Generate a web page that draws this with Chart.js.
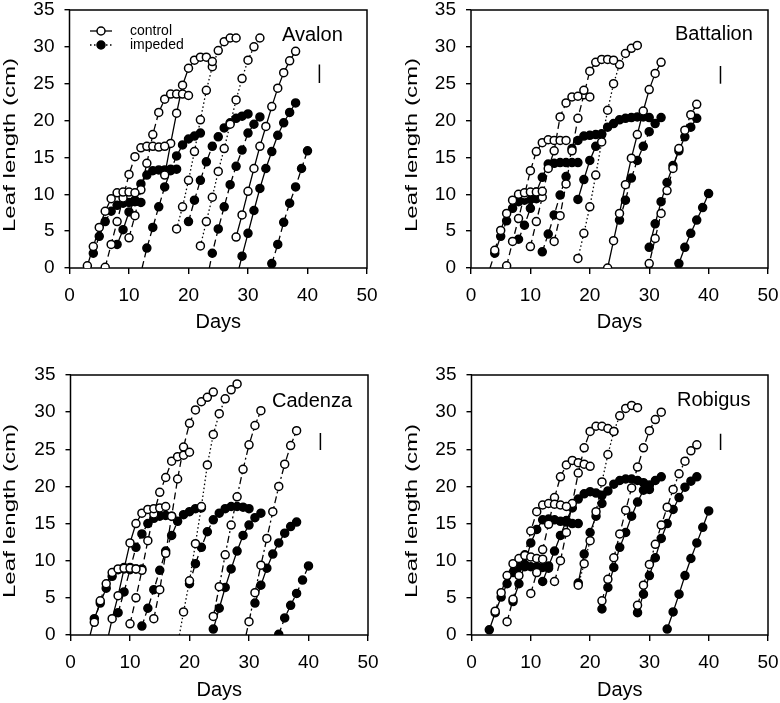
<!DOCTYPE html>
<html>
<head>
<meta charset="utf-8">
<script src="https://cdn.jsdelivr.net/npm/chart.js@4"></script>
<style>
  html, body { margin: 0; padding: 0; background: #fff; width: 780px; height: 703px; overflow: hidden; }
  .panel { position: absolute; }
</style>
</head>
<body>
<div class="panel" style="left:0;top:0"><canvas id="avalon" width="380" height="345"></canvas></div>
<div class="panel" style="left:400px;top:0"><canvas id="battalion" width="380" height="345"></canvas></div>
<div class="panel" style="left:0;top:365px"><canvas id="cadenza" width="380" height="345"></canvas></div>
<div class="panel" style="left:400px;top:365px"><canvas id="robigus" width="380" height="345"></canvas></div>
<script>
// each leaf: [first day, daily leaf lengths (cm)]
var avalonControl = [
  [3, [0.3, 2.9, 5.5, 7.7, 9.4, 10.2, 10.3, 10.3, 10.2]],
  [6, [0.1, 3.2, 6.3, 9.5, 12.7, 15.1, 16.3, 16.5, 16.5, 16.4, 16.5]],
  [10, [4.1, 7.1, 10.6, 14.2, 18.1, 21.1, 22.9, 23.6, 23.6, 23.6, 23.4]],
  [16, [12.6, 16.9, 21.0, 24.8, 27.1, 28.2, 28.6, 28.6, 28.0]],
  [18, [5.3, 8.3, 11.9, 15.8, 20.1, 24.1, 27.3, 29.5, 30.7, 31.2, 31.2]],
  [22, [3.0, 6.3, 9.6, 13.1, 16.2, 19.5, 22.8, 25.7, 28.2, 30.0, 31.2]],
  [28, [4.2, 7.2, 10.4, 13.5, 16.5, 19.2, 21.9, 24.4, 26.5, 28.1, 29.4]]
];
var avalonImpeded = [
  [4, [2.0, 4.3, 6.3, 7.7, 8.5, 8.8, 8.9, 9.0, 8.9]],
  [8, [3.2, 5.2, 7.6, 9.2, 11.4, 12.6, 13.2, 13.3, 13.3, 13.4, 13.4]],
  [13, [2.7, 5.5, 8.3, 11.0, 13.2, 15.2, 16.7, 17.5, 17.9, 18.3]],
  [20, [6.3, 9.2, 11.9, 14.4, 16.5, 17.8, 19.0, 19.7, 20.3, 20.6, 20.9]],
  [24, [2.0, 5.3, 8.3, 11.3, 13.8, 16.0, 18.3, 19.5, 20.5]],
  [29, [1.6, 4.7, 7.8, 10.8, 13.5, 15.8, 18.0, 19.7, 21.1, 22.4]],
  [34, [0.6, 3.2, 6.2, 8.8, 11.0, 13.5, 15.9]]
];
// day where a fitted line meets 0 (null = none drawn)
var avalonControlX0 = [null, null, null, null, null, null, null];
var avalonImpededX0 = [null, null, 12.2, null, 23.5, 28.5, null];
var avalonErr = [25.1, 27.6];

var battalionControl = [
  [4, [2.4, 5.1, 7.4, 9.2, 10.0, 10.2, 10.3, 10.3, 10.4]],
  [6, [0.3, 3.6, 6.7, 9.9, 13.2, 15.8, 17.0, 17.4, 17.3, 17.3, 17.3]],
  [10, [2.9, 6.3, 9.6, 13.5, 15.9, 20.5, 22.4, 23.2, 23.3, 24.1, 23.2]],
  [14, [3.6, 7.1, 11.4, 15.9, 20.3, 23.5, 26.7, 27.9, 28.3, 28.3, 28.2]],
  [18, [1.3, 4.7, 8.3, 12.6, 17.1, 21.4, 25.0, 27.6, 29.1, 29.8, 30.2]],
  [23, [0.0, 3.7, 7.4, 11.3, 14.9, 18.1, 21.3, 24.2, 26.4, 27.9]],
  [30, [0.6, 4.0, 7.4, 10.5, 13.5, 16.2, 18.7, 20.8, 22.2]]
];
var battalionImpeded = [
  [4, [2.0, 4.3, 6.4, 8.1, 9.0, 9.2, 9.3, 9.4]],
  [8, [3.9, 5.8, 8.1, 10.3, 12.3, 14.1, 14.2, 14.3, 14.3, 14.3, 14.3]],
  [12, [2.2, 4.6, 7.2, 9.9, 12.4, 16.2, 17.3, 17.9, 18.0, 18.1, 18.2]],
  [18, [9.3, 12.0, 14.6, 16.5, 18.1, 19.1, 19.6, 20.1, 20.3, 20.4, 20.5, 20.5, 20.4]],
  [25, [6.5, 9.2, 12.2, 14.6, 16.5, 18.5, 19.6, 20.4]],
  [30, [2.8, 6.0, 9.0, 11.6, 13.9, 15.9, 17.8, 19.1, 20.3]],
  [35, [0.6, 2.8, 4.7, 6.5, 8.2, 10.1]]
];
var battalionControlX0 = [null, null, null, null, null, null, 29.5];
var battalionImpededX0 = [3.2, null, null, null, null, null, null];
var battalionErr = [25.0, 27.4];

var cadenzaControl = [
  [4, [1.7, 4.6, 6.9, 8.4, 8.9, 9.0, 9.0, 8.9]],
  [7, [2.2, 5.3, 8.9, 12.4, 15.0, 16.4, 16.9, 17.0, 17.1, 17.3]],
  [10, [1.5, 5.0, 8.7, 12.7, 16.3, 19.2, 21.2, 23.4, 24.0, 24.2, 24.6]],
  [14, [2.2, 6.1, 11.0, 16.0, 21.0, 25.3, 28.5, 30.3, 31.4, 32.0, 32.7]],
  [19, [3.1, 7.3, 12.3, 17.3, 22.9, 27.0, 29.8, 31.8, 33.0, 33.8]],
  [24, [2.5, 6.5, 10.8, 14.8, 18.6, 22.3, 25.6, 28.2, 30.2]],
  [30, [1.8, 5.7, 9.4, 13.0, 16.6, 20.0, 23.0, 25.5, 27.5]]
];
var cadenzaImpeded = [
  [4, [2.2, 4.3, 6.3, 7.9, 8.8, 9.1, 9.1, 8.9, 8.9]],
  [8, [3.0, 5.8, 8.8, 11.8, 13.6, 15.0, 15.7, 16.0, 16.1, 16.0]],
  [12, [1.2, 3.6, 6.1, 8.7, 11.3, 13.4, 15.3, 16.2, 16.6, 17.0, 17.1]],
  [20, [6.9, 9.6, 11.8, 13.9, 15.5, 16.4, 17.0, 17.3, 17.3, 17.2, 17.0]],
  [24, [0.8, 3.6, 6.4, 8.9, 11.3, 13.4, 14.8, 15.8, 16.4]],
  [31, [4.3, 6.7, 9.0, 10.9, 12.4, 13.7, 14.6, 15.2]],
  [35, [0.1, 2.3, 4.0, 5.6, 7.4, 9.3]]
];
var cadenzaControlX0 = [null, 6.4, null, null, 18.3, null, 29.5];
var cadenzaImpededX0 = [3.3, null, null, null, null, null, null];
var cadenzaErr = [24.9, 27.2];

var robigusControl = [
  [4, [3.2, 5.7, 8.0, 9.6, 10.3, 10.7, 10.5, 10.3, 10.2]],
  [6, [1.8, 4.8, 8.0, 10.8, 14.0, 16.6, 17.5, 17.7, 17.6, 17.5, 17.3]],
  [10, [5.6, 8.4, 11.5, 14.9, 18.5, 21.3, 22.9, 23.5, 23.2, 23.0, 22.7]],
  [14, [7.2, 10.0, 13.8, 17.7, 21.8, 25.2, 27.4, 28.1, 28.1, 27.8, 27.4]],
  [18, [6.7, 9.6, 12.7, 16.6, 20.6, 24.3, 27.4, 29.5, 30.5, 30.9, 30.6]],
  [22, [4.6, 7.5, 10.4, 13.6, 16.8, 19.8, 22.6, 25.2, 27.5, 29.0, 30.0]],
  [28, [4.0, 6.7, 9.5, 12.2, 14.8, 17.2, 19.6, 21.7, 23.4, 24.8, 25.6]]
];
var robigusImpeded = [
  [3, [0.7, 3.0, 5.1, 6.9, 8.4, 9.2, 9.2, 9.2, 9.2, 9.1, 9.0]],
  [7, [4.5, 6.9, 9.5, 12.4, 14.2, 15.5, 15.6, 15.5, 15.3, 15.2, 15.0, 15.0]],
  [12, [7.2, 9.3, 11.3, 13.4, 15.4, 17.1, 18.3, 19.0, 19.3, 19.1, 18.8]],
  [18, [7.0, 10.9, 13.8, 16.0, 17.7, 19.4, 20.3, 20.8, 21.0, 21.0, 20.8, 20.5, 20.2]],
  [22, [3.5, 6.4, 9.1, 11.8, 13.8, 16.0, 17.9, 19.5, 19.6, 20.8, 21.3]],
  [28, [3.0, 5.5, 8.0, 10.4, 13.0, 15.0, 16.9, 18.5, 19.9, 20.7, 21.3]],
  [33, [0.8, 3.1, 5.5, 8.0, 10.3, 12.4, 14.5, 16.7]]
];
var robigusControlX0 = [null, null, null, null, null, null, null];
var robigusImpededX0 = [null, null, null, null, null, null, null];
var robigusErr = [24.9, 27.1];

var xTicks = [0, 10, 20, 30, 40, 50];
var yTicks = [0, 5, 10, 15, 20, 25, 30, 35];
var errDay = 42;

var FONT = "'Liberation Sans', Arial, sans-serif";
var DASH = { solid: [], dash: [7, 4], dot: [1.5, 2.5], dashdot: [7, 3, 2, 3] };

function leafSeries(leaf, x0, filled, dash) {
  var pts = leaf[1].map(function (v, i) { return { x: leaf[0] + i, y: v }; });
  var radii = pts.map(function () { return 4; });
  if (x0 != null) { pts.unshift({ x: x0, y: 0 }); radii.unshift(0); }
  return {
    data: pts, showLine: true, borderColor: '#000', borderWidth: 1.3, borderDash: DASH[dash],
    pointRadius: radii, pointHoverRadius: radii, pointBorderWidth: 1.5,
    pointBackgroundColor: filled ? '#000' : '#fff', pointBorderColor: '#000'
  };
}

var framePlugin = {
  id: 'frame',
  beforeDatasetsDraw: function (chart) {
    var a = chart.chartArea, ctx = chart.ctx;
    ctx.save();
    ctx.strokeStyle = '#000';
    ctx.lineWidth = 1.5;
    ctx.strokeRect(a.left, a.top, a.right - a.left, a.bottom - a.top);
    ctx.restore();
  },
  afterDraw: function (chart, args, opts) {
    var ctx = chart.ctx, a = chart.chartArea;
    ctx.save();
    ctx.fillStyle = '#000';
    ctx.textBaseline = 'middle';
    // stretched y-axis title, as in the source figure
    ctx.save();
    ctx.translate(opts.tx, (a.top + a.bottom) / 2 + 6);
    ctx.rotate(-Math.PI / 2);
    ctx.scale(1.46, 1);
    ctx.font = '16.5px ' + FONT;
    ctx.textAlign = 'center';
    ctx.fillText('Leaf length (cm)', 0, 0);
    ctx.restore();

    ctx.font = '20px ' + FONT;
    ctx.fillText(opts.name, opts.nx, opts.ny);
    if (opts.legend) {
      var rows = [['control', [], '#fff', 31], ['impeded', DASH.dot, '#000', 45]];
      ctx.font = '14px ' + FONT;
      rows.forEach(function (r) {
        ctx.strokeStyle = '#000';
        ctx.lineWidth = 1.3;
        ctx.setLineDash(r[1]);
        ctx.beginPath(); ctx.moveTo(90, r[3]); ctx.lineTo(112, r[3]); ctx.stroke();
        ctx.setLineDash([]);
        ctx.beginPath(); ctx.arc(101, r[3], 4, 0, Math.PI * 2);
        ctx.fillStyle = r[2]; ctx.fill(); ctx.lineWidth = 1.5; ctx.stroke();
        ctx.fillStyle = '#000';
        ctx.fillText(r[0], 130, r[3]);
      });
    }
    ctx.restore();
  }
};

function makePanel(id, name, control, impeded, cX0, iX0, cDash, iDash, err, geo) {
  var datasets = [];
  control.forEach(function (leaf, i) { datasets.push(leafSeries(leaf, cX0[i], false, cDash[i])); });
  impeded.forEach(function (leaf, i) { datasets.push(leafSeries(leaf, iX0[i], true, iDash[i])); });
  datasets.push({
    data: [{ x: errDay, y: err[0] }, { x: errDay, y: err[1] }], showLine: true,
    borderColor: '#000', borderWidth: 1.5, pointRadius: 0
  });
  var tickFont = { family: FONT, size: 19, lineHeight: 1 };
  new Chart(document.getElementById(id), {
    type: 'scatter',
    data: { datasets: datasets },
    options: {
      responsive: false, animation: false, events: [],
      layout: { padding: { left: 0, top: 10, right: geo.right, bottom: 0 } },
      plugins: {
        legend: { display: false }, tooltip: { enabled: false },
        frame: { name: name, nx: geo.nx, ny: geo.ny, tx: geo.tx, legend: geo.legend }
      },
      scales: {
        x: {
          type: 'linear', min: 0, max: 50,
          afterFit: function (s) { s.height = geo.xH; s.paddingLeft = 0; s.paddingRight = 0; },
          afterBuildTicks: function (s) { s.ticks = xTicks.map(function (v) { return { value: v }; }); },
          ticks: { color: '#000', font: tickFont, padding: 12, maxRotation: 0 },
          grid: { drawOnChartArea: false, drawTicks: true, tickLength: 6, color: '#000', lineWidth: 1.4 },
          border: { display: false },
          title: { display: true, text: 'Days', color: '#000', font: { family: FONT, size: 20 }, padding: { top: 0, bottom: geo.tb } }
        },
        y: {
          min: 0, max: 35,
          afterFit: function (s) { s.width = geo.yW; s.paddingTop = 0; s.paddingBottom = 0; },
          afterBuildTicks: function (s) { s.ticks = yTicks.map(function (v) { return { value: v }; }); },
          ticks: { color: '#000', font: tickFont, padding: 10 },
          grid: { drawOnChartArea: false, drawTicks: true, tickLength: 5, color: '#000', lineWidth: 1.4 },
          border: { display: false },
          title: { display: false }
        }
      }
    },
    plugins: [framePlugin]
  });
}

makePanel('avalon', 'Avalon', avalonControl, avalonImpeded, avalonControlX0, avalonImpededX0,
  ['solid', 'dash', 'dash', 'solid', 'dot', 'dot', 'solid'],
  ['dash', 'solid', 'dash', 'dash', 'dash', 'solid', 'dash'],
  avalonErr, { yW: 69.5, xH: 77, right: 13, tb: 11, nx: 282, ny: 35, tx: 10, legend: true });
makePanel('battalion', 'Battalion', battalionControl, battalionImpeded, battalionControlX0, battalionImpededX0,
  ['dash', 'dash', 'dash', 'dash', 'dot', 'solid', 'dash'],
  ['dash', 'dash', 'dash', 'solid', 'dash', 'solid', 'solid'],
  battalionErr, { yW: 71, xH: 77, right: 12, tb: 11, nx: 275, ny: 34, tx: 12, legend: false });
makePanel('cadenza', 'Cadenza', cadenzaControl, cadenzaImpeded, cadenzaControlX0, cadenzaImpededX0,
  ['dash', 'solid', 'dash', 'dash', 'dot', 'dashdot', 'dashdot'],
  ['solid', 'dash', 'dash', 'dash', 'solid', 'solid', 'dash'],
  cadenzaErr, { yW: 70.5, xH: 75, right: 12, tb: 8, nx: 272, ny: 36, tx: 10, legend: false });
makePanel('robigus', 'Robigus', robigusControl, robigusImpeded, robigusControlX0, robigusImpededX0,
  ['dash', 'dash', 'dash', 'dash', 'dot', 'dash', 'dashdot'],
  ['solid', 'solid', 'solid', 'solid', 'solid', 'solid', 'solid'],
  robigusErr, { yW: 71.5, xH: 75, right: 12, tb: 8, nx: 277, ny: 35, tx: 12, legend: false });
</script>
</body>
</html>
